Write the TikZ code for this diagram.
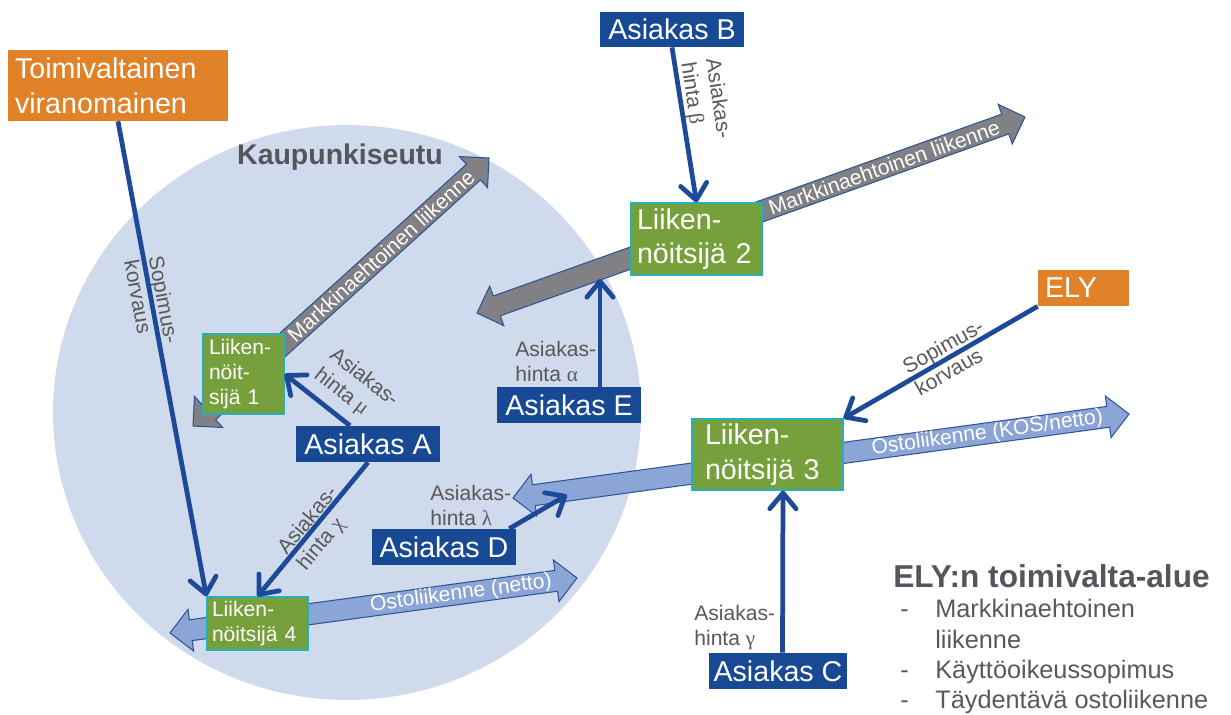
\documentclass[tikz,border=0pt]{standalone}
\usepackage{fontspec}
\setmainfont{Liberation Sans}
\newfontfamily\kreikka{Liberation Serif}
\usetikzlibrary{arrows.meta,calc}

\definecolor{seutu}{RGB}{207,218,236}
\definecolor{asblue}{RGB}{24,73,148}
\definecolor{lineblue}{RGB}{28,74,152}
\definecolor{opgreen}{RGB}{118,160,60}
\definecolor{opedge}{RGB}{40,175,190}
\definecolor{viraorange}{RGB}{226,130,40}
\definecolor{mkgray}{RGB}{128,128,133}
\definecolor{ostoblue}{RGB}{138,165,214}
\definecolor{arrowedge}{RGB}{47,85,151}
\definecolor{labelgray}{RGB}{89,89,89}
\definecolor{titlegray}{RGB}{84,86,94}

\newcommand{\isofontti}{\fontsize{16.3}{19.8}\selectfont}
\newcommand{\pienifontti}{\fontsize{12}{14.2}\selectfont}

% double headed block arrow between two tips
\newcommand{\kaksinuoli}[3]{%
  \coordinate (na) at ($(#2)!0.42cm!(#3)$);
  \coordinate (nb) at ($(#3)!0.42cm!(#2)$);
  \draw[#1] ($(na)!0.21cm!90:(#3)$) -- ($(nb)!0.21cm!-90:(#2)$) -- ($(nb)!0.42cm!-90:(#2)$) -- (#3)
    -- ($(nb)!0.42cm!90:(#2)$) -- ($(nb)!0.21cm!90:(#2)$) -- ($(na)!0.21cm!-90:(#3)$)
    -- ($(na)!0.42cm!-90:(#3)$) -- (#2) -- ($(na)!0.42cm!90:(#3)$) -- cycle;
}

\tikzset{
  asiakas/.style={fill=asblue, text=white, font=\isofontti, inner sep=0pt, minimum width=2.88cm, minimum height=0.72cm},
  liik/.style={fill=opgreen, draw=opedge, line width=0.7pt, text=white, align=left, inner ysep=0pt},
  viranomainen/.style={fill=viraorange, text=white, font=\isofontti, align=left, inner ysep=0pt},
  raha/.style={draw=lineblue, line width=2.7pt, -{Straight Barb[length=9pt,width=15pt,round]}},
  hinta/.style={text=labelgray, font=\pienifontti, inner sep=0pt, align=left},
  markkina/.style={fill=mkgray, draw=arrowedge, line width=0.6pt},
  osto/.style={fill=ostoblue, draw=arrowedge, line width=0.6pt},
  nuoliteksti/.style={text=white, font=\pienifontti, inner sep=0pt},
}

\begin{document}
\begin{tikzpicture}[x=0.02cm,y=-0.02cm]
\path[use as bounding box, fill=white] (0,0) rectangle (1231,715);

% kaupunkiseutu
\fill[seutu] (347,412.5) ellipse [x radius=5.88cm, y radius=5.75cm];
\node[font=\bfseries\fontsize{16.2}{19}\selectfont, text=titlegray, anchor=base, inner sep=0pt] (seutu) at (340,165) {Kaupunkiseutu};

% block arrows
\coordinate (mk1a) at (193,426); \coordinate (mk1b) at (489,158);
\coordinate (mk2a) at (477,313); \coordinate (mk2b) at (1025,117);
\coordinate (os3a) at (513,498); \coordinate (os3b) at (1129,414);
\coordinate (os4a) at (170,633); \coordinate (os4b) at (577,578);
\kaksinuoli{markkina}{mk1a}{mk1b}
\kaksinuoli{markkina}{mk2a}{mk2b}
\kaksinuoli{osto}{os3a}{os3b}
\kaksinuoli{osto}{os4a}{os4b}
\path (mk1a) -- (mk1b) node[nuoliteksti, sloped, pos=0.635] (mkt1) {Markkinaehtoinen liikenne};
\path (mk2a) -- (mk2b) node[nuoliteksti, sloped, pos=0.743] (mkt2) {Markkinaehtoinen liikenne};
\path (os3a) -- (os3b) node[nuoliteksti, sloped, pos=0.77] (ost3) {Ostoliikenne (KOS/netto)};
\path (os4a) -- (os4b) node[nuoliteksti, sloped, pos=0.715] (ost4) {Ostoliikenne (netto)};

% actors
\node[viranomainen, text width=4.12cm, inner xsep=0.14cm, minimum height=1.42cm] (tv) at (118,85.5) {Toimivaltainen\\viranomainen};
\node[viranomainen, text width=1.54cm, inner xsep=0.14cm, minimum height=0.72cm] (ely) at (1083.5,288) {ELY};
\node[liik, font=\pienifontti, text width=1.38cm, inner xsep=0.12cm, minimum height=1.6cm] (liik1) at (243.5,374) {Liiken-\\nöit-\\sijä 1};
\node[liik, font=\isofontti, text width=2.38cm, inner xsep=0.12cm, minimum height=1.44cm] (liik2) at (696.5,239) {Liiken-\\nöitsijä 2};
\node[liik, font=\isofontti, text width=2.5cm, inner xsep=0.26cm, minimum height=1.42cm] (liik3) at (767.5,454.5) {Liiken-\\nöitsijä 3};
\node[liik, font=\pienifontti, text width=1.82cm, inner xsep=0.1cm, minimum height=1.06cm] (liik4) at (257.5,623.5) {Liiken-\\nöitsijä 4};
\node[asiakas] (asA) at (368,444) {Asiakas A};
\node[asiakas, minimum height=0.7cm] (asB) at (672,29.5) {Asiakas B};
\node[asiakas, minimum width=2.76cm] (asC) at (778,671) {Asiakas C};
\node[asiakas] (asD) at (444,547) {Asiakas D};
\node[asiakas] (asE) at (569,405) {Asiakas E};

% labels
\node[hinta, rotate=-79.3] (sop1) at (152,302) {Sopimus-\\korvaus};
\node[hinta, rotate=29.6] (sop2) at (949,357) {Sopimus-\\korvaus};
\node[hinta, rotate=-81.6] (hbeta) at (705,101) {Asiakas-\\hinta {\kreikka β}};
\node[hinta, rotate=-38] (hmu) at (356,388) {Asiakas-\\hinta {\kreikka μ}};
\node[hinta, rotate=50.4] (hchi) at (318,529) {Asiakas-\\hinta {\kreikka χ}};
\node[hinta, anchor=west] (halpha) at (515,361) {Asiakas-\\hinta {\kreikka α}};
\node[hinta, anchor=west] (hlambda) at (430,505) {Asiakas-\\hinta {\kreikka λ}};
\node[hinta, anchor=west] (hgamma) at (694,628) {Asiakas-\\hinta {\kreikka γ}};

% payments
\coordinate (ealpha) at (600,279);
\coordinate (dlambda) at (567,495);
\draw[raha] (tv.south) -- (liik4.north west);
\draw[raha] (asB.south) -- (liik2.north);
\draw[raha] (asE.north -| ealpha) -- (ealpha);
\draw[raha] ([xshift=-0.36cm]asA.north) -- (liik1.east);
\draw[raha] (asA.south) -- (liik4.north);
\draw[raha] ([xshift=-0.14cm]asD.north east) -- (dlambda);
\draw[raha] (ely.south west) -- (liik3.north east);
\draw[raha] ([xshift=0.09cm]asC.north) -- ([xshift=0.31cm]liik3.south);

% legend
\node[font=\bfseries\fontsize{18}{21}\selectfont, text=titlegray, anchor=base west, inner sep=0pt] (elyotsikko) at (893,588) {ELY:n toimivalta-alue};
\node[anchor=base west, inner sep=0pt, text=labelgray, font=\fontsize{14.4}{17.2}\selectfont] (elylista) at (900,618)
  {\begin{tabular}[t]{@{}p{0.7cm}@{}l@{}}
  - & Markkinaehtoinen\\
    & liikenne\\
  - & Käyttöoikeussopimus\\
  - & Täydentävä ostoliikenne
  \end{tabular}};
\end{tikzpicture}
\end{document}
